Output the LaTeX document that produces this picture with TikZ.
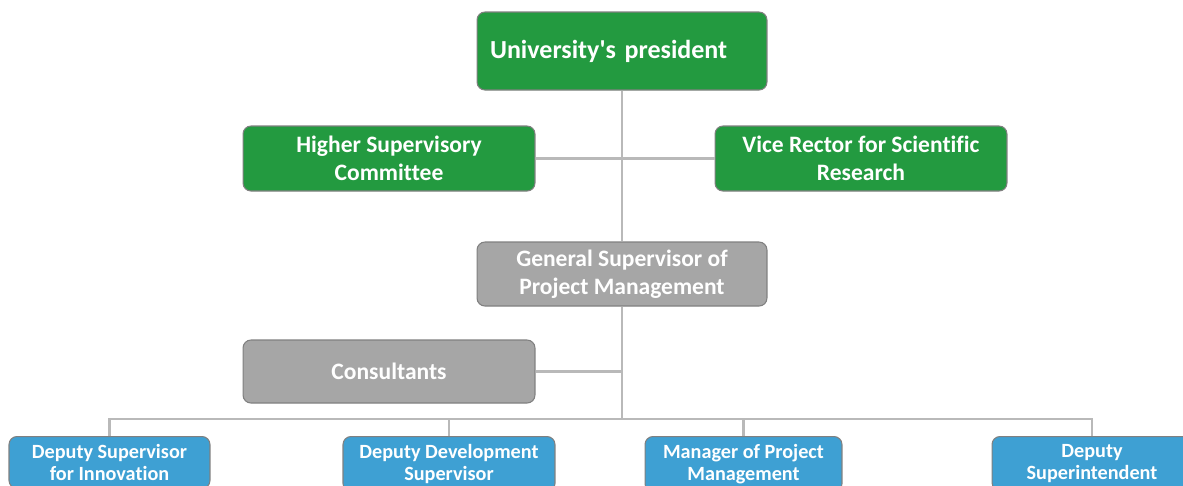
\documentclass[tikz,border=0pt]{standalone}
\usepackage{fontspec}
\setmainfont{Carlito}[Ligatures=NoCommon]
\usetikzlibrary{calc}
\definecolor{orggreen}{RGB}{35, 154, 64}
\definecolor{orggray}{RGB}{166, 166, 166}
\definecolor{orgblue}{RGB}{62, 160, 211}
\definecolor{orgline}{RGB}{185, 185, 185}
\definecolor{orgedge}{RGB}{128, 128, 128}

\begin{document}
\begin{tikzpicture}[x=0.02cm, y=-0.02cm,
  box/.style={draw=orgedge, line width=0.6pt, rounded corners=4.5pt,
    text=white, align=center, inner sep=0pt},
  topbox/.style={box, fill=orggreen, text width=5.28cm, inner xsep=0.26cm,
    align=left, minimum height=1.56cm, font=\bfseries\fontsize{14.8}{18}\selectfont},
  greenbox/.style={box, fill=orggreen, minimum width=5.84cm, minimum height=1.3cm,
    font=\bfseries\fontsize{13.4}{15.9}\selectfont},
  graybox/.style={box, fill=orggray, minimum width=5.8cm, minimum height=1.28cm,
    font=\bfseries\fontsize{13.4}{15.9}\selectfont},
  bluebox/.style={box, fill=orgblue, anchor=north,
    inner ysep=4.2pt, font=\bfseries\fontsize{11.5}{13}\selectfont},
  link/.style={draw=orgline, line width=1.3pt}]
\useasboundingbox (0,0) rectangle (1183,485);

% Top of the chart
\node[topbox] (pres) at (622,51) {\raisebox{-1.5pt}{University\textquotesingle s president}};
\node[greenbox] (hsc) at (389,158.5) {Higher Supervisory\\Committee};
\node[greenbox] (vrsr) at (861,158.5) {Vice Rector for Scientific\\Research};

% Project management
\node[graybox] (gspm) at (622,274) {General Supervisor of\\Project Management};
\node[graybox, minimum width=5.84cm, minimum height=1.26cm] (cons) at (389,371.5) {Consultants};

% Deputies (cut by the page edge)
\node[bluebox, minimum width=4.02cm] (dsi) at (109.5,436) {Deputy Supervisor\\for Innovation};
\node[bluebox, minimum width=4.24cm] (dds) at (449,436) {Deputy Development\\Supervisor};
\node[bluebox, minimum width=3.94cm] (mpm) at (743.5,436) {Manager of Project\\Management};
\node[bluebox, minimum width=4.0cm] (dsup) at (1092,436) {Deputy\\Superintendent};

% Lines
\coordinate (bus) at (622,419);
\draw[link] (pres.south) -- (gspm.north);
\draw[link] (hsc.east) -- (vrsr.west);
\draw[link] (gspm.south) -- (bus);
\draw[link] (cons.east) -- (cons.east -| gspm.south);
\draw[link] (dsi.north) |- (dsup.north |- bus) -- (dsup.north);
\draw[link] (dds.north) -- (dds.north |- bus);
\draw[link] (mpm.north) -- (mpm.north |- bus);
\end{tikzpicture}
\end{document}
